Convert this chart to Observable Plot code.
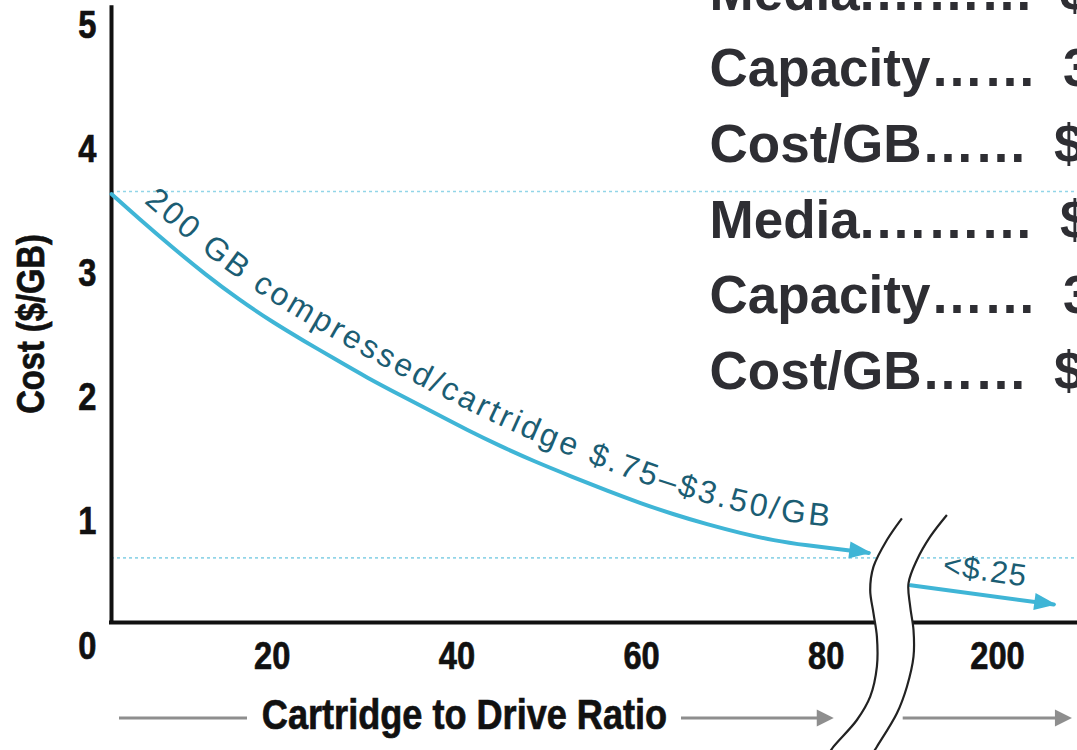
<!DOCTYPE html>
<html><head><meta charset="utf-8">
<script src="https://cdn.jsdelivr.net/npm/d3@7"></script>
<script src="https://cdn.jsdelivr.net/npm/@observablehq/plot@0.6"></script>
<style>html,body{margin:0;padding:0;background:#fff;overflow:hidden}#chart svg{display:block}</style>
</head><body><div id="chart"></div>
<script>
// ---- data ----
const curveX = [0, 3.0, 6.6, 10.2, 13.8, 17.4, 21.0, 24.0, 27.7, 31.3, 34.9, 38.5, 42.1, 45.7, 50.0, 53.7, 57.3, 60.9, 64.5, 68.1, 71.7, 75.4, 78.9, 82.0];
const curveY = [3.45, 3.25, 3.02, 2.80, 2.60, 2.42, 2.26, 2.13, 1.97, 1.83, 1.69, 1.55, 1.42, 1.30, 1.17, 1.06, 0.96, 0.87, 0.79, 0.72, 0.66, 0.62, 0.59, 0.56];
const tailX = [188.0, 203.5];
const tailY = [0.30, 0.145];
const refLevels = [3.47, 0.52];
const xTicks = [20, 40, 60, 80, 200];
const yTicks = [0, 1, 2, 3, 4, 5];
const xBreak = [84, 186];
const curveLabel = "200 GB compressed/cartridge $.75–$3.50/GB";
const tailLabel = "<$.25";
const xTitle = "Cartridge to Drive Ratio";
const yTitle = "Cost ($/GB)";
const specLines = ["Media.………\u2002$", "Capacity……\u20023", "Cost/GB……\u2002$", "Media.………\u2002$", "Capacity……\u20023", "Cost/GB……\u2002$"];

const curve = curveX.map((x, i) => ({x, y: curveY[i]}));
const tail = tailX.map((x, i) => ({x, y: tailY[i]}));
const tailMid = [{x: d3.mean(tailX), y: d3.mean(tailY)}];

const BLUE = "#3fb5d6", TEAL = "#1b5d73", SANS = "'Liberation Sans',Arial,Helvetica,sans-serif";

function decorations(index, scales, values, dims) {
  const {x, y} = scales;
  const g = d3.create("svg:g");
  const line = d3.line().curve(d3.curveBasis);
  const P = curve.map(d => [x(d.x), y(d.y)]);
  const T = tail.map(d => [x(d.x), y(d.y)]);
  const n = P.length;
  // label path: offset above the curve
  const off = P.map((p, i) => {
    const a = P[Math.max(0, i - 1)], b = P[Math.min(n - 1, i + 1)];
    const dx = b[0] - a[0], dy = b[1] - a[1], L = Math.hypot(dx, dy);
    const o = 15 + 6 * i / (n - 1);
    return [p[0] + dy / L * o, p[1] - dx / L * o];
  });
  g.append("path").attr("id", "curveLabelPath").attr("d", line(off)).attr("fill", "none");
  g.append("text").attr("class", "curve-label").attr("fill", TEAL).attr("text-anchor", "start")
    .attr("font-size", 32).attr("font-family", SANS)
    .append("textPath").attr("href", "#curveLabelPath").attr("startOffset", 30).text(curveLabel);
  // filled arrow heads
  const head = (p0, p1, len, hw, color, ext = 0) => {
    const dx = p1[0] - p0[0], dy = p1[1] - p0[1], L = Math.hypot(dx, dy), ux = dx / L, uy = dy / L;
    const tx = p1[0] + ux * ext, ty = p1[1] + uy * ext;
    const bx = tx - ux * len, by = ty - uy * len;
    g.append("path").attr("d", `M${tx},${ty}L${bx - uy * hw},${by + ux * hw}L${bx + uy * hw},${by - ux * hw}Z`).attr("fill", color);
  };
  head(P[n - 2], P[n - 1], 22, 8.5, BLUE, 3);
  head(T[0], T[1], 22, 8.5, BLUE, 3);
  // gray direction rules under the axis title
  const gy = y(0) + 96, gray = "#8e8e8e";
  const tc = dims.marginLeft + 353, hw = 205;
  const segs = [[x(0) + 8, tc - hw - 12, false], [tc + hw + 12, x(80) - 16, true], [x(xBreak[1]) + 11, x(200) + 51, true]];
  for (const [a, b, h] of segs) {
    g.append("line").attr("x1", a).attr("x2", h ? b - 10 : b).attr("y1", gy).attr("y2", gy).attr("stroke", gray).attr("stroke-width", 3.2);
    if (h) head([a, gy], [b, gy], 17, 8.5, gray);
  }
  // axis break
  const curveB = d3.line().curve(d3.curveCatmullRom);
  const bx = (x(xBreak[0]) + x(xBreak[1])) / 2, by = y(0);
  const Lp = [[12.7,-103.7],[-2.3,-82],[-15.7,-55.3],[-19,-32],[-15.7,-8.7],[-12.3,14.7],[-12.3,44.7],[-19,74.7],[-32.3,98],[-55.7,124.7],[-62,134]].map(([a, b]) => [bx + a, by + b]);
  const Rp = [[57.7,-107],[41,-85.3],[27.7,-62],[19.3,-38.7],[21,-15.3],[24.3,8],[24.3,34.7],[17.7,64.7],[7.7,91.3],[-12.3,124.7],[-18,134]].map(([a, b]) => [bx + a, by + b]);
  const lp = curveB(Lp), rp = curveB(Rp.slice().reverse());
  g.append("path").attr("d", lp + "L" + rp.slice(1) + "Z").attr("fill", "#fff");
  g.append("path").attr("d", lp).attr("fill", "none").attr("stroke", "#222").attr("stroke-width", 2.2);
  g.append("path").attr("d", curveB(Rp)).attr("fill", "none").attr("stroke", "#222").attr("stroke-width", 2.2);
  return g.node();
}

const chart = Plot.plot({
  width: 1077, height: 750,
  marginLeft: 111, marginRight: 0, marginTop: 1, marginBottom: 128,
  x: {type: "linear", domain: [0, xBreak[0], xBreak[1], 210], range: [111, 886.7, 891.7, 1113.3]},
  y: {domain: [0, 5], range: [622, 1]},
  style: {background: "#fff", fontFamily: SANS},
  marks: [
    Plot.ruleY(refLevels, {stroke: "#92d5e8", strokeWidth: 1.6, strokeDasharray: "3,3"}),
    Plot.ruleX([0], {y1: 0, y2: 4.95, stroke: "#111", strokeWidth: 4, strokeLinecap: "square"}),
    Plot.ruleY([0], {stroke: "#111", strokeWidth: 4, strokeLinecap: "square"}),
    Plot.line(curve, {x: "x", y: "y", stroke: BLUE, strokeWidth: 4, curve: "basis"}),
    Plot.line(tail, {x: "x", y: "y", stroke: BLUE, strokeWidth: 4}),
    decorations,
    Plot.axisX({ticks: xTicks, tickSize: 0, tickPadding: 20, dx: -24, fontSize: 38, fontWeight: "bold", fill: "#111", label: null, tickFormat: d => String(d)}),
    Plot.axisY({ticks: yTicks, tickSize: 0, tickPadding: 15, dy: 24, fontSize: 38, fontWeight: "bold", fill: "#111", label: null, tickFormat: d => String(d)}),
    Plot.text([xTitle], {frameAnchor: "bottom-left", dx: 353, dy: 93, textAnchor: "middle", lineAnchor: "middle", fontSize: 42, fontWeight: "bold", fill: "#111"}),
    Plot.text([yTitle], {frameAnchor: "left", rotate: -90, dx: -80, dy: 12, textAnchor: "middle", lineAnchor: "middle", fontSize: 38, fontWeight: "bold", fill: "#111"}),
    Plot.text(tailMid, {x: "x", y: "y", text: () => tailLabel, rotate: 8, dx: 3, dy: -24, fontSize: 31, fill: TEAL}),
    Plot.text([specLines.join("\n")], {frameAnchor: "top-left", dx: 598, dy: -45, textAnchor: "start", lineAnchor: "top", lineHeight: 1.43, fontSize: 53, fontWeight: "bold", fill: "#2e2e33"})
  ]
});
document.getElementById("chart").append(chart);

// condensed look for axis texts (no condensed face installed)
const condensed = new Set([...xTicks.map(String), ...yTicks.map(String), xTitle, yTitle]);
for (const t of chart.querySelectorAll("text")) {
  if (condensed.has(t.textContent)) {
    const tr = t.getAttribute("transform") || "";
    t.setAttribute("transform", tr + " scale(0.86,1)");
    t.setAttribute("stroke", "#111");
    t.setAttribute("stroke-width", 0.7);
  }
  if (t.textContent === tailLabel) t.setAttribute("letter-spacing", 1.2);
}
// fit the curved label to the curve's length
const cl = chart.querySelector("text.curve-label");
if (cl) {
  const natural = cl.getComputedTextLength();
  cl.setAttribute("letter-spacing", Math.max(0, (770 - natural) / curveLabel.length));
}
</script>
</body></html>
